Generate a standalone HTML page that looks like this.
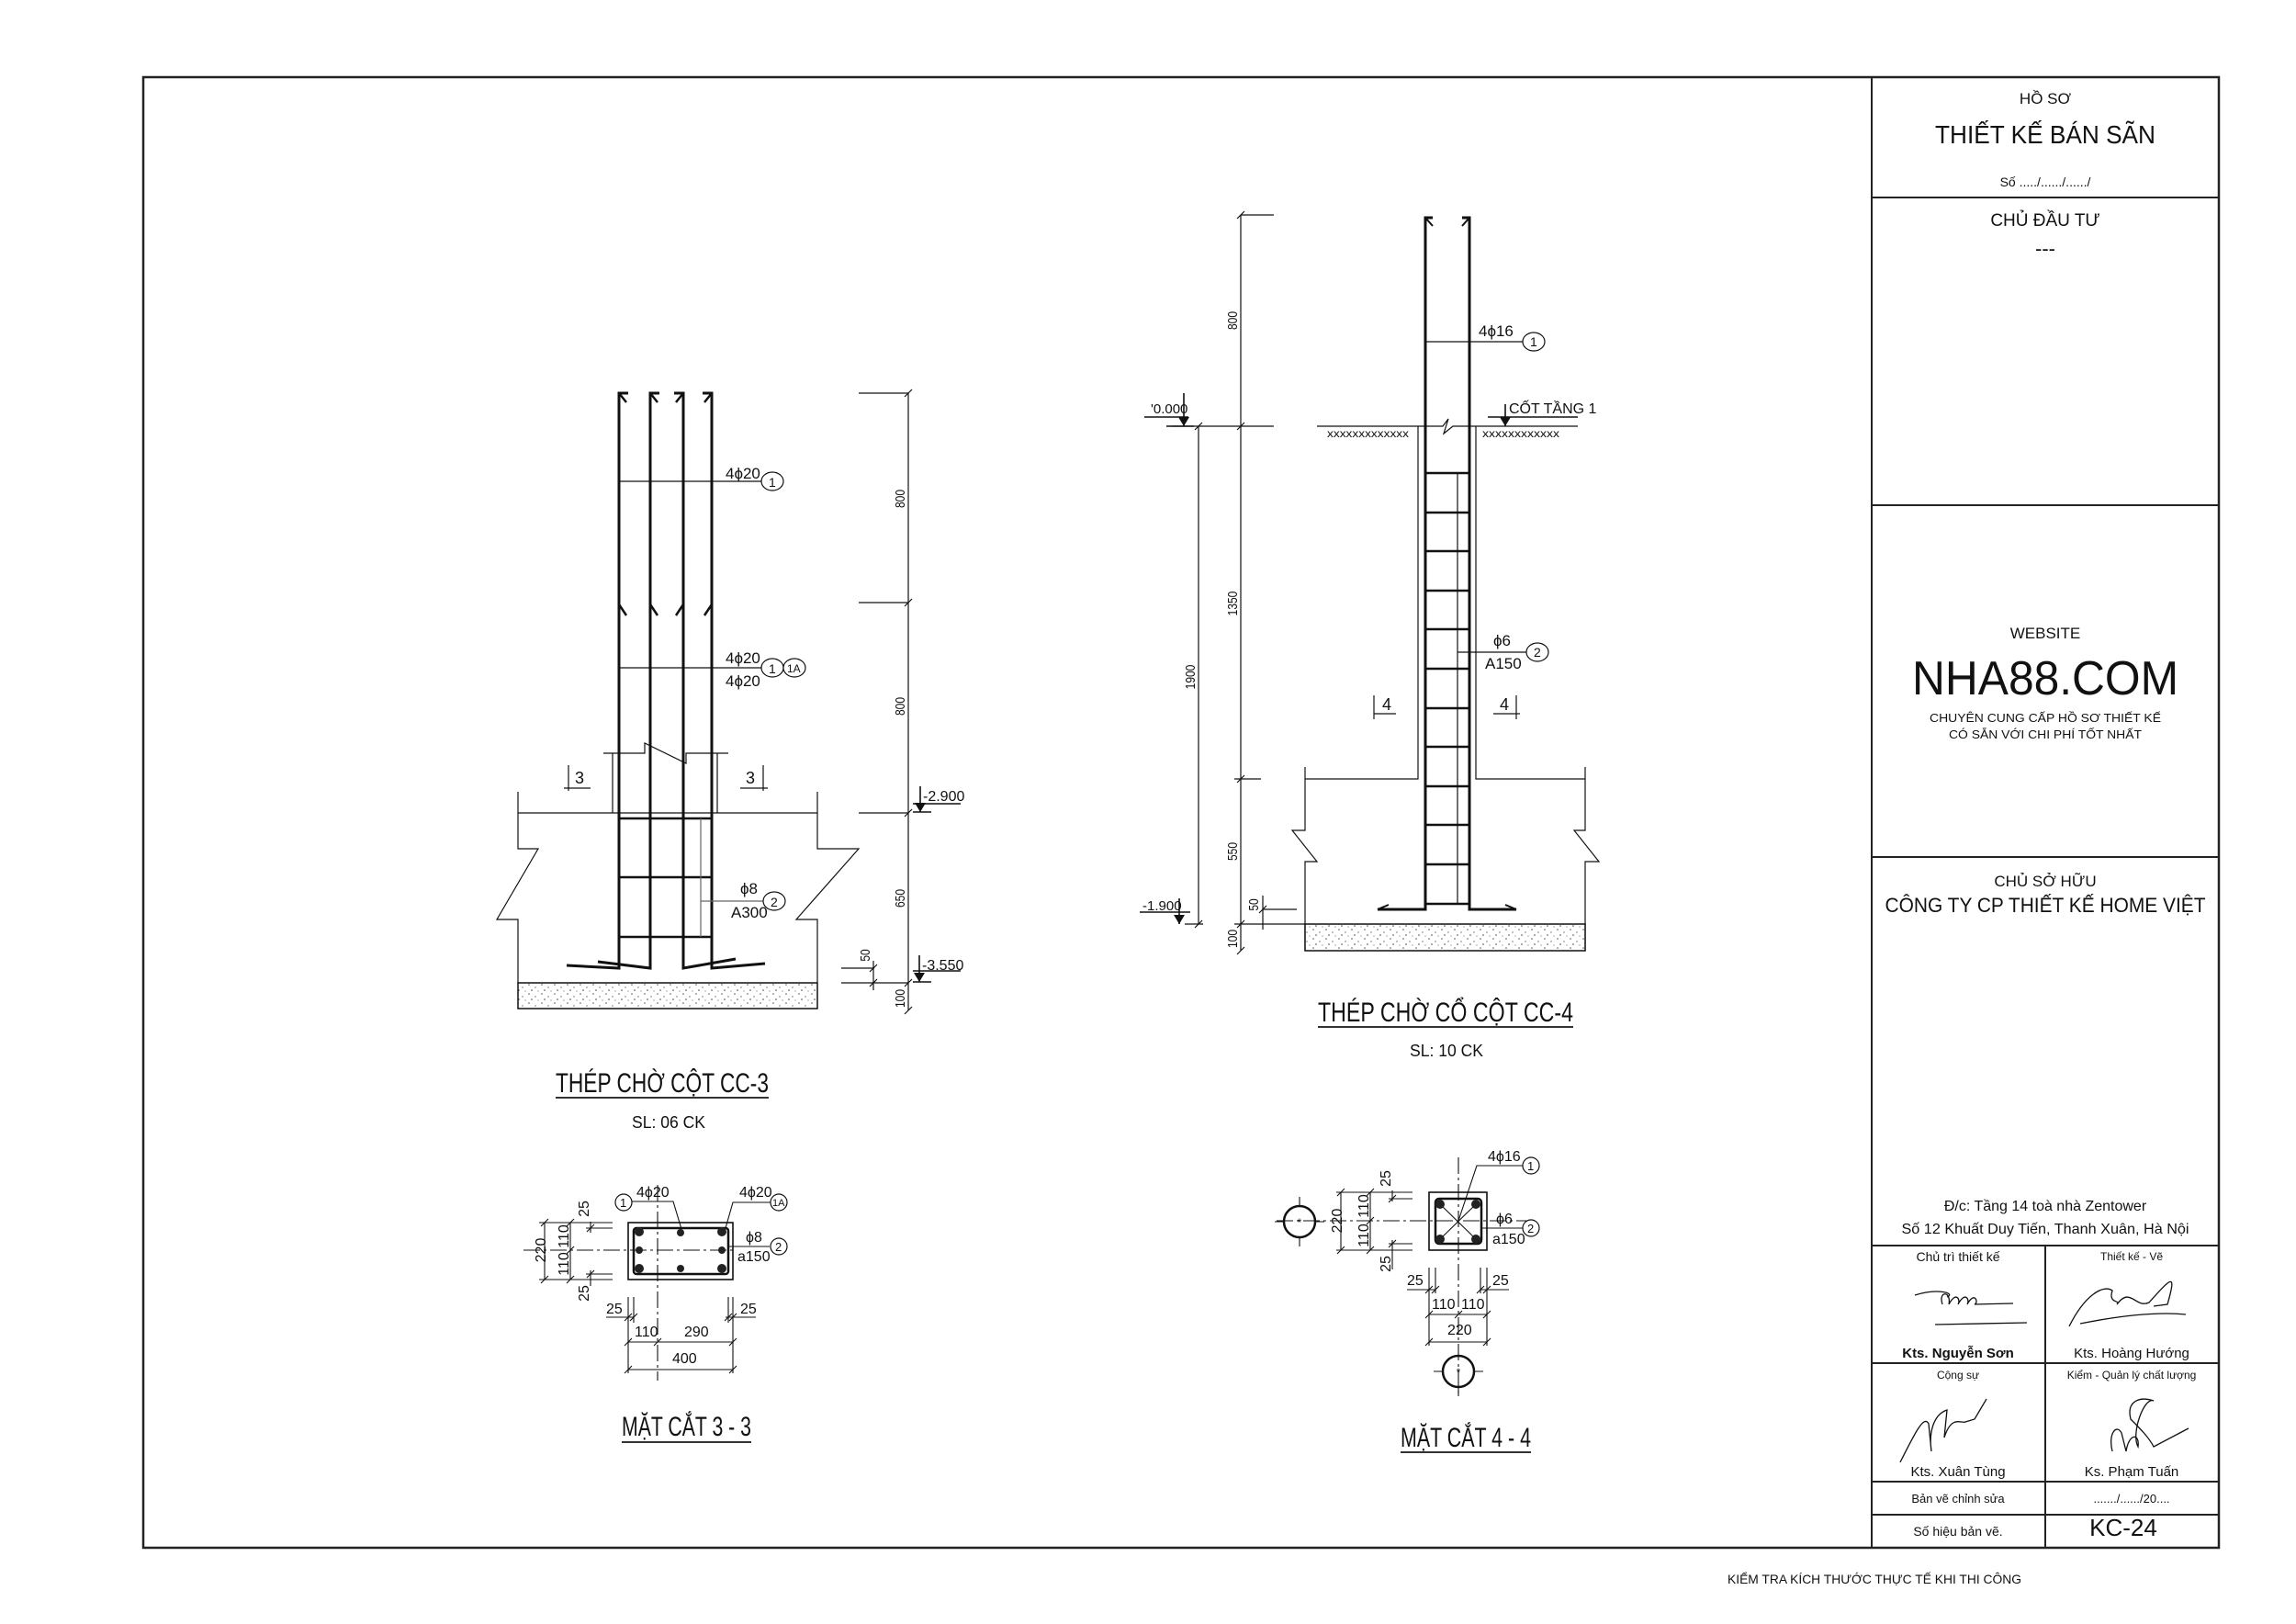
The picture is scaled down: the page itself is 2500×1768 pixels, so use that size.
<!DOCTYPE html>
<html><head><meta charset="utf-8"><style>
html,body{margin:0;padding:0;background:#fff;}
svg{display:block;}
text{font-family:"Liberation Sans",sans-serif;fill:#111;}
.n{font-family:"Liberation Sans",sans-serif;font-weight:normal;}
</style></head><body>
<svg width="2500" height="1768" viewBox="0 0 2500 1768" xmlns="http://www.w3.org/2000/svg">
<defs>
<pattern id="st" width="14" height="10" patternUnits="userSpaceOnUse">
<rect width="14" height="10" fill="#fff"/>
<circle cx="2" cy="2" r="0.8" fill="#555"/><circle cx="9" cy="5" r="0.7" fill="#666"/><circle cx="5" cy="8" r="0.8" fill="#444"/><circle cx="12" cy="9" r="0.6" fill="#777"/>
</pattern>
</defs>
<rect x="156" y="84" width="2260" height="1601" fill="none" stroke="#222" stroke-width="2.5"/>
<line x1="2038" y1="84" x2="2038" y2="1685" stroke="#222" stroke-width="2"/>
<g stroke="#222" stroke-width="2">
<line x1="2038" y1="215" x2="2416" y2="215"/>
<line x1="2038" y1="550" x2="2416" y2="550"/>
<line x1="2038" y1="933" x2="2416" y2="933"/>
<line x1="2038" y1="1356" x2="2416" y2="1356"/>
<line x1="2038" y1="1484" x2="2416" y2="1484"/>
<line x1="2038" y1="1613" x2="2416" y2="1613"/>
<line x1="2038" y1="1649" x2="2416" y2="1649"/>
<line x1="2227" y1="1356" x2="2227" y2="1685"/>
</g>
<g text-anchor="middle">
<text x="2227" y="113" font-size="17">HỒ SƠ</text>
<text x="2227" y="156" font-size="28" textLength="240" lengthAdjust="spacingAndGlyphs">THIẾT KẾ BÁN SÃN</text>
<text x="2227" y="203" font-size="14">Số ...../....../....../</text>
<text x="2227" y="246" font-size="19">CHỦ ĐẦU TƯ</text>
<text x="2227" y="278" font-size="22">---</text>
<text x="2227" y="695" font-size="17">WEBSITE</text>
<text x="2227" y="756" font-size="52" textLength="290" lengthAdjust="spacingAndGlyphs">NHA88.COM</text>
<text x="2227" y="786" font-size="13" textLength="252" lengthAdjust="spacingAndGlyphs">CHUYÊN CUNG CẤP HỒ SƠ THIẾT KẾ</text>
<text x="2227" y="804" font-size="13" textLength="210" lengthAdjust="spacingAndGlyphs">CÓ SẴN VỚI CHI PHÍ TỐT NHẤT</text>
<text x="2227" y="965" font-size="17">CHỦ SỞ HỮU</text>
<text x="2227" y="993" font-size="22" textLength="349" lengthAdjust="spacingAndGlyphs">CÔNG TY CP THIẾT KẾ HOME VIỆT</text>
<text x="2227" y="1318" font-size="16">Đ/c: Tầng 14 toà nhà Zentower</text>
<text x="2227" y="1343" font-size="16" textLength="313" lengthAdjust="spacingAndGlyphs">Số 12 Khuất Duy Tiến, Thanh Xuân, Hà Nội</text>
<text x="2132" y="1373" font-size="14">Chủ trì thiết kế</text>
<text x="2321" y="1372" font-size="12">Thiết kế - Vẽ</text>
<text x="2132" y="1478" font-size="15" font-weight="bold">Kts. Nguyễn Sơn</text>
<text x="2321" y="1478" font-size="15">Kts. Hoàng Hướng</text>
<text x="2132" y="1501" font-size="12">Cộng sự</text>
<text x="2321" y="1501" font-size="12">Kiểm - Quản lý chất lượng</text>
<text x="2132" y="1607" font-size="15">Kts. Xuân Tùng</text>
<text x="2321" y="1607" font-size="15">Ks. Phạm Tuấn</text>
<text x="2132" y="1636" font-size="13">Bản vẽ chỉnh sửa</text>
<text x="2321" y="1636" font-size="13">......./....../20....</text>
<text x="2132" y="1672" font-size="14">Số hiệu bản vẽ.</text>
<text x="2312" y="1672" font-size="26">KC-24</text>
<text x="2041" y="1724" font-size="14" textLength="320" lengthAdjust="spacingAndGlyphs">KIỂM TRA KÍCH THƯỚC THỰC TẾ KHI THI CÔNG</text>
</g>
<g fill="none" stroke="#111" stroke-width="1.3">
<path d="M2085 1410 C2110 1402 2130 1408 2120 1412 M2115 1420 C2110 1405 2125 1405 2122 1420 C2130 1405 2135 1415 2132 1420 C2140 1405 2145 1415 2142 1420 C2150 1405 2155 1418 2150 1420 L2192 1419"/>
<path d="M2107 1442 L2207 1440"/>
<path d="M2253 1444 C2270 1410 2290 1398 2300 1405 C2295 1420 2310 1415 2305 1420 C2320 1400 2325 1425 2340 1418 C2365 1390 2370 1385 2360 1420 L2345 1422 M2265 1441 C2310 1432 2350 1428 2380 1431"/>
<path d="M2069 1592 C2085 1560 2095 1540 2100 1550 L2103 1580 C2100 1560 2105 1540 2120 1535 L2117 1565 C2125 1540 2135 1550 2140 1548 L2150 1545 L2163 1523"/>
<path d="M2300 1580 C2295 1560 2305 1550 2310 1560 L2315 1580 C2318 1560 2330 1560 2328 1575 C2320 1560 2335 1520 2345 1525 C2330 1520 2315 1525 2320 1545 C2330 1555 2340 1565 2345 1575 L2383 1555"/>
</g>

<!-- CC-3 -->
<g fill="none" stroke="#111">
<g stroke-width="3">
<path d="M684 428 L674 428 L674 1054 L617 1051"/>
<path d="M718 428 L708 428 L708 1054 L651 1047"/>
<path d="M734 428 L744 428 L744 1054 L801 1044"/>
<path d="M765 428 L775 428 L775 1054 L833 1049"/>
<path d="M674 428 L682 438 M708 428 L716 438 M744 428 L736 438 M775 428 L767 438" stroke-width="2.5"/>
<path d="M674 658 L682 670 M708 658 L716 670 M744 658 L736 670 M775 658 L767 670" stroke-width="2.5"/>
<path d="M674 891 L775 891 M674 955 L775 955 M674 1020 L775 1020" stroke-width="2.5"/>
</g>
<g stroke-width="1.2">
<path d="M674 524 L830 524 M674 727 L830 727"/>
<path d="M763 891 L763 1020 M763 981 L832 981" stroke="#666"/>
<path d="M667 820 L667 885 M781 820 L781 885"/>
<path d="M657 820 L702 820 L702 809 L747 831 L747 820 L793 820"/>
<path d="M564 862 L564 885 L890 885 L890 862"/>
<path d="M564 885 L564 924 L586 924 L541 1001 L564 1001 L564 1070"/>
<path d="M890 885 L890 924 L935 924 L867 1001 L890 1001 L890 1070"/>
<path d="M619 833 L619 861 M614 858 L643 858 M831 833 L831 861 M806 858 L836 858"/>
<path d="M989 428 L989 1100 M935 428 L989 428 M935 656 L989 656 M935 885 L989 885 M916 1070 L989 1070 M916 1054 L952 1054 M951 1046 L951 1078"/>
<path d="M985 432 L993 424 M985 660 L993 652 M985 889 L993 881 M985 1074 L993 1066 M985 1104 L993 1096 M947 1058 L955 1050 M947 1074 L955 1066"/>
<path d="M994 875 L1046 875 M994 884 L1014 884 M1002 856 L1002 884 M994 1057 L1046 1057 M994 1069 L1014 1069 M1001 1040 L1001 1069" stroke-width="1.6"/>
</g>
</g>
<path d="M996 874 L1008 874 L1002 884 Z M995 1059 L1007 1059 L1001 1069 Z" fill="#111"/>
<rect x="564" y="1070" width="326" height="28" fill="url(#st)" stroke="#111" stroke-width="1.5"/>
<g fill="#fff" stroke="#111" stroke-width="1.2">
<ellipse cx="841" cy="524" rx="12" ry="10"/><ellipse cx="841" cy="727" rx="12" ry="10"/><ellipse cx="865" cy="727" rx="12" ry="10"/><ellipse cx="843" cy="981" rx="12" ry="10"/>
</g>
<g font-size="17" class="n">
<text x="790" y="521">4ϕ20</text><text x="837" y="530" font-size="14">1</text>
<text x="790" y="722">4ϕ20</text><text x="790" y="747">4ϕ20</text><text x="837" y="733" font-size="14">1</text><text x="857" y="732" font-size="12">1A</text>
<text x="806" y="973">ϕ8</text><text x="796" y="999">A300</text><text x="839" y="987" font-size="14">2</text>
<text x="626" y="853" font-size="18">3</text><text x="812" y="853" font-size="18">3</text>
<text x="1005" y="872" font-size="16">-2.900</text>
<text x="1004" y="1056" font-size="16">-3.550</text>
</g>
<g font-size="15" class="n" fill="#333">
<text transform="translate(985,543) rotate(-90) scale(0.8,1)" text-anchor="middle">800</text>
<text transform="translate(985,769) rotate(-90) scale(0.8,1)" text-anchor="middle">800</text>
<text transform="translate(985,978) rotate(-90) scale(0.8,1)" text-anchor="middle">650</text>
<text transform="translate(985,1087) rotate(-90) scale(0.8,1)" text-anchor="middle">100</text>
<text transform="translate(947,1040) rotate(-90) scale(0.8,1)" text-anchor="middle">50</text>
</g>
<text x="605" y="1189" font-size="30" class="n" textLength="232" lengthAdjust="spacingAndGlyphs">THÉP CHỜ CỘT CC-3</text>
<line x1="605" y1="1195" x2="837" y2="1195" stroke="#333" stroke-width="2"/>
<text x="688" y="1228" font-size="18" class="n" textLength="80" lengthAdjust="spacingAndGlyphs">SL: 06 CK</text>

<!-- CC-4 -->
<g fill="none" stroke="#111">
<g stroke-width="3">
<path d="M1560 237 L1552 237 L1552 990 L1500 990"/>
<path d="M1592 237 L1600 237 L1600 990 L1651 990"/>
<path d="M1552 237 L1560 246 M1600 237 L1592 246 M1500 990 L1512 985 M1651 990 L1639 985" stroke-width="2"/>
<path d="M1552 515 H1600 M1552 558 H1600 M1552 600 H1600 M1552 643 H1600 M1552 685 H1600 M1552 728 H1600 M1552 771 H1600 M1552 813 H1600 M1552 856 H1600 M1552 898 H1600 M1552 941 H1600 M1552 984 H1600" stroke-width="2.5"/>
</g>
<g stroke-width="1.2">
<path d="M1552 372 L1659 372 M1587 515 L1587 984 M1587 710 L1662 710" />
<path d="M1434 464 L1571 464 L1577 456 L1572 472 L1582 464 L1718 464"/>
<path d="M1544 464 L1544 848 L1421 848 M1607 464 L1607 848 L1726 848 M1421 835 L1421 848"/>
<path d="M1421 848 L1421 904 L1407 904 L1434 938 L1421 938 L1421 1035 M1726 835 L1726 904 L1714 904 L1741 938 L1726 938 L1726 1035"/>
<path d="M1496 757 L1496 783 M1496 777 L1520 777 M1651 757 L1651 783 M1626 777 L1655 777"/>
<path d="M1351 234 L1351 1035 M1351 234 L1387 234 M1276 464 L1387 464 M1344 848 L1373 848 M1375 990 L1412 990 M1344 1006 L1421 1006 M1375 975 L1375 1012 M1305 464 L1305 1006 M1290 1006 L1310 1006"/>
<path d="M1347 238 L1355 230 M1347 468 L1355 460 M1347 852 L1355 844 M1347 1010 L1355 1002 M1347 1039 L1355 1031 M1301 468 L1309 460 M1301 1010 L1309 1002 M1371 994 L1379 986"/>
<path d="M1246 454 L1294 454 M1289 428 L1289 464 M1270 464 L1300 464 M1241 993 L1296 993 M1284 978 L1284 1006 M1639 440 L1639 464 M1620 454 L1718 454" stroke-width="1.6"/>
</g>
</g>
<path d="M1283 454 L1295 454 L1289 464 Z M1278 996 L1290 996 L1284 1006 Z M1633 454 L1645 454 L1639 464 Z" fill="#111"/>
<g font-size="12" fill="#444" class="n">
<text x="1445" y="476" textLength="89" lengthAdjust="spacingAndGlyphs">xxxxxxxxxxxxx</text>
<text x="1614" y="476" textLength="84" lengthAdjust="spacingAndGlyphs">xxxxxxxxxxxx</text>
</g>
<rect x="1421" y="1006" width="305" height="29" fill="url(#st)" stroke="#111" stroke-width="1.5"/>
<g fill="#fff" stroke="#111" stroke-width="1.2">
<ellipse cx="1670" cy="372" rx="12" ry="10"/><ellipse cx="1674" cy="710" rx="12" ry="10"/>
</g>
<g font-size="17" class="n">
<text x="1610" y="366">4ϕ16</text><text x="1666" y="377" font-size="14">1</text>
<text x="1626" y="703">ϕ6</text><text x="1617" y="728">A150</text><text x="1670" y="715" font-size="14">2</text>
<text x="1505" y="773" font-size="18">4</text><text x="1633" y="773" font-size="18">4</text>
<text x="1253" y="450" font-size="15">'0.000</text>
<text x="1643" y="450" font-size="16">CỐT TẦNG 1</text>
<text x="1244" y="991" font-size="15">-1.900</text>
</g>
<g font-size="15" class="n" fill="#333">
<text transform="translate(1347,349) rotate(-90) scale(0.8,1)" text-anchor="middle">800</text>
<text transform="translate(1347,657) rotate(-90) scale(0.8,1)" text-anchor="middle">1350</text>
<text transform="translate(1347,927) rotate(-90) scale(0.8,1)" text-anchor="middle">550</text>
<text transform="translate(1347,1022) rotate(-90) scale(0.8,1)" text-anchor="middle">100</text>
<text transform="translate(1370,985) rotate(-90) scale(0.8,1)" text-anchor="middle">50</text>
<text transform="translate(1301,737) rotate(-90) scale(0.8,1)" text-anchor="middle">1900</text>
</g>
<text x="1435" y="1112" font-size="30" class="n" textLength="278" lengthAdjust="spacingAndGlyphs">THÉP CHỜ CỔ CỘT CC-4</text>
<line x1="1435" y1="1118" x2="1713" y2="1118" stroke="#333" stroke-width="2"/>
<text x="1535" y="1150" font-size="18" class="n" textLength="80" lengthAdjust="spacingAndGlyphs">SL: 10 CK</text>

<!-- Section 3-3 -->
<g fill="none" stroke="#111" stroke-width="1.1">
<rect x="684" y="1331" width="114" height="62" stroke-width="1.6"/>
<rect x="690" y="1337" width="103" height="50" stroke-width="2.5" rx="3"/>
<path d="M716 1290 L716 1503" stroke-dasharray="18 4 3 4"/>
<path d="M570 1361 L800 1361" stroke-dasharray="18 4 3 4"/>
<path d="M687 1308 L733 1308 L742 1338 M839 1309 L798 1309 L790 1337 M793 1357 L838 1357"/>
<path d="M593 1331 L593 1393 M621 1331 L621 1393 M643 1330 L643 1342 M643 1383 L643 1400 M587 1331 L667 1331 M587 1393 L667 1393 M638 1337 L667 1337 M638 1387 L667 1387"/>
<path d="M684 1412 L684 1495 M690 1412 L690 1440 M793 1412 L793 1440 M798 1412 L798 1495 M660 1434 L690 1434 M790 1434 L823 1434 M684 1461 L798 1461 M684 1491 L798 1491"/>
<path d="M589 1335 L597 1327 M589 1397 L597 1389 M617 1335 L625 1327 M617 1365 L625 1357 M617 1397 L625 1389 M639 1341 L647 1333 M639 1391 L647 1383 M680 1438 L688 1430 M686 1438 L694 1430 M789 1438 L797 1430 M794 1438 L802 1430 M680 1465 L688 1457 M712 1465 L720 1457 M794 1465 L802 1457 M680 1495 L688 1487 M794 1495 L802 1487"/>
</g>
<g fill="#222">
<circle cx="696" cy="1341" r="5"/><circle cx="786" cy="1341" r="5"/><circle cx="696" cy="1381" r="5"/><circle cx="786" cy="1381" r="5"/>
<circle cx="741" cy="1342" r="4"/><circle cx="741" cy="1381" r="4"/><circle cx="696" cy="1361" r="4"/><circle cx="786" cy="1361" r="4"/>
</g>
<g fill="#fff" stroke="#111" stroke-width="1.2">
<circle cx="679" cy="1309" r="9"/><circle cx="848" cy="1309" r="9"/><circle cx="848" cy="1357" r="9"/>
</g>
<g font-size="16" class="n">
<text x="693" y="1303">4ϕ20</text><text x="805" y="1303">4ϕ20</text>
<text x="675" y="1314" font-size="13">1</text><text x="841" y="1313" font-size="11">1A</text><text x="844" y="1362" font-size="13">2</text>
<text x="812" y="1352">ϕ8</text><text x="803" y="1373">a150</text>
<text x="660" y="1430">25</text><text x="806" y="1430">25</text>
<text x="691" y="1455">110</text><text x="745" y="1455">290</text><text x="732" y="1484">400</text>
</g>
<g font-size="16" class="n">
<text transform="translate(594,1361) rotate(-90)" text-anchor="middle">220</text>
<text transform="translate(619,1346) rotate(-90)" text-anchor="middle">110</text>
<text transform="translate(619,1376) rotate(-90)" text-anchor="middle">110</text>
<text transform="translate(641,1316) rotate(-90)" text-anchor="middle">25</text>
<text transform="translate(641,1408) rotate(-90)" text-anchor="middle">25</text>
</g>
<text x="677" y="1563" font-size="30" class="n" textLength="141" lengthAdjust="spacingAndGlyphs">MẶT CẮT 3 - 3</text>
<line x1="677" y1="1570" x2="818" y2="1570" stroke="#333" stroke-width="2"/>

<!-- Section 4-4 -->
<g fill="none" stroke="#111" stroke-width="1.1">
<rect x="1556" y="1298" width="63" height="63" stroke-width="1.6"/>
<rect x="1563" y="1305" width="50" height="49" stroke-width="2.5" rx="4"/>
<path d="M1568 1311 L1607 1349 M1607 1311 L1568 1349"/>
<path d="M1588 1260 L1588 1520" stroke-dasharray="18 4 3 4"/>
<path d="M1390 1329 L1665 1329" stroke-dasharray="18 4 3 4"/>
<path d="M1659 1269 L1608 1269 L1588 1329 M1613 1337 L1659 1337"/>
<path d="M1460 1298 L1460 1361 M1492 1298 L1492 1361 M1516 1296 L1516 1308 M1516 1350 L1516 1382 M1455 1298 L1538 1298 M1455 1361 L1538 1361 M1512 1305 L1538 1305 M1512 1354 L1538 1354"/>
<path d="M1556 1380 L1556 1465 M1563 1380 L1563 1408 M1612 1380 L1612 1408 M1619 1380 L1619 1465 M1532 1404 L1563 1404 M1612 1404 L1643 1404 M1556 1431 L1619 1431 M1556 1461 L1619 1461"/>
<path d="M1456 1302 L1464 1294 M1456 1365 L1464 1357 M1488 1302 L1496 1294 M1488 1333 L1496 1325 M1488 1365 L1496 1357 M1512 1309 L1520 1301 M1512 1358 L1520 1350 M1552 1408 L1560 1400 M1559 1408 L1567 1400 M1608 1408 L1616 1400 M1615 1408 L1623 1400 M1552 1435 L1560 1427 M1584 1435 L1592 1427 M1615 1435 L1623 1427 M1552 1465 L1560 1457 M1615 1465 L1623 1457"/>
<circle cx="1415" cy="1330" r="17" stroke-width="2.5"/>
<path d="M1388 1330 L1398 1330 M1432 1330 L1442 1330 M1415 1303 L1415 1313 M1415 1347 L1415 1357"/>
<circle cx="1588" cy="1493" r="17" stroke-width="2.5"/>
<path d="M1561 1493 L1571 1493 M1605 1493 L1615 1493 M1588 1510 L1588 1520"/>
</g>
<g fill="#222">
<circle cx="1568" cy="1311" r="5"/><circle cx="1607" cy="1311" r="5"/><circle cx="1568" cy="1349" r="5"/><circle cx="1607" cy="1349" r="5"/>
</g>
<g font-size="12" text-anchor="middle"><text x="1415" y="1335">*</text><text x="1588" y="1498">*</text></g>
<g fill="#fff" stroke="#111" stroke-width="1.2">
<circle cx="1667" cy="1269" r="9"/><circle cx="1667" cy="1337" r="9"/>
</g>
<g font-size="16" class="n">
<text x="1620" y="1264">4ϕ16</text>
<text x="1663" y="1274" font-size="13">1</text><text x="1663" y="1342" font-size="13">2</text>
<text x="1629" y="1332">ϕ6</text><text x="1625" y="1354">a150</text>
<text x="1532" y="1399">25</text><text x="1625" y="1399">25</text>
<text x="1559" y="1425">110</text><text x="1591" y="1425">110</text><text x="1576" y="1453">220</text>
</g>
<g font-size="16" class="n">
<text transform="translate(1461,1329) rotate(-90)" text-anchor="middle">220</text>
<text transform="translate(1490,1313) rotate(-90)" text-anchor="middle">110</text>
<text transform="translate(1490,1345) rotate(-90)" text-anchor="middle">110</text>
<text transform="translate(1514,1283) rotate(-90)" text-anchor="middle">25</text>
<text transform="translate(1514,1376) rotate(-90)" text-anchor="middle">25</text>
</g>
<text x="1525" y="1575" font-size="30" class="n" textLength="142" lengthAdjust="spacingAndGlyphs">MẶT CẮT 4 - 4</text>
<line x1="1525" y1="1581" x2="1667" y2="1581" stroke="#333" stroke-width="2"/>
</svg>
</body></html>
